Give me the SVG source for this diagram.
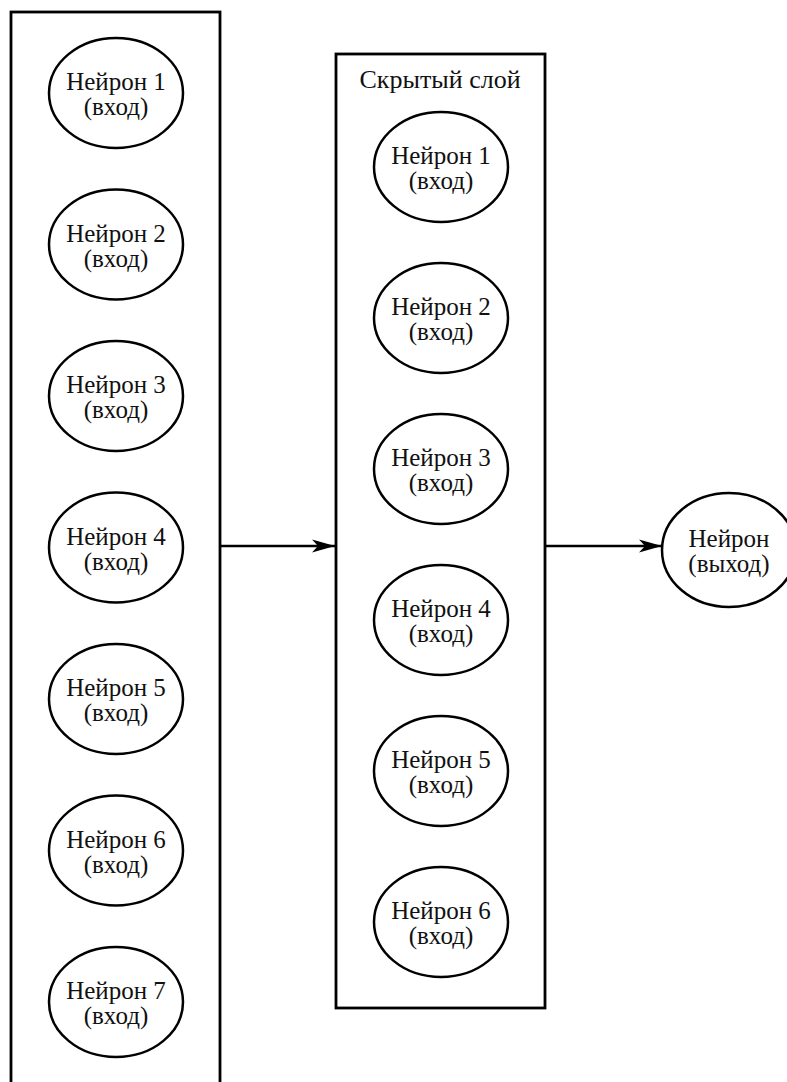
<svg xmlns="http://www.w3.org/2000/svg" width="787" height="1082" viewBox="0 0 787 1082">
<defs>
<style>
.layer{fill:#fff;stroke:#000;stroke-width:2.8}
.nd{fill:#fff;stroke:#000;stroke-width:2.5}
.t{font-family:"Liberation Serif","Times New Roman",serif;font-size:25px;fill:#111;text-anchor:middle}
.tt{font-size:26px}
.edge{stroke:#000;stroke-width:2.6;fill:none}
</style>
<marker id="arr" markerWidth="24" markerHeight="14" refX="23" refY="7" orient="auto" markerUnits="userSpaceOnUse">
<path d="M23,7 L0,0.5 L6,7 L0,13.5 Z" fill="#000"/>
</marker>
</defs>
<rect width="787" height="1082" fill="#fff"/>
<g id="input-layer">
<rect class="layer" x="11" y="12" width="209" height="1090"/>
</g>
<g id="hidden-layer">
<rect class="layer" x="336" y="54" width="209" height="954"/>
<text class="t tt" x="440" y="88">Скрытый слой</text>
</g>
<g id="in1"><ellipse class="nd" cx="116" cy="93" rx="67" ry="55"/><text class="t" x="116" y="90">Нейрон 1</text><text class="t" x="116" y="115">(вход)</text></g>
<g id="in2"><ellipse class="nd" cx="116" cy="244.5" rx="67" ry="55"/><text class="t" x="116" y="241.5">Нейрон 2</text><text class="t" x="116" y="266.5">(вход)</text></g>
<g id="in3"><ellipse class="nd" cx="116" cy="396" rx="67" ry="55"/><text class="t" x="116" y="393">Нейрон 3</text><text class="t" x="116" y="418">(вход)</text></g>
<g id="in4"><ellipse class="nd" cx="116" cy="547.5" rx="67" ry="55"/><text class="t" x="116" y="544.5">Нейрон 4</text><text class="t" x="116" y="569.5">(вход)</text></g>
<g id="in5"><ellipse class="nd" cx="116" cy="699" rx="67" ry="55"/><text class="t" x="116" y="696">Нейрон 5</text><text class="t" x="116" y="721">(вход)</text></g>
<g id="in6"><ellipse class="nd" cx="116" cy="850.5" rx="67" ry="55"/><text class="t" x="116" y="847.5">Нейрон 6</text><text class="t" x="116" y="872.5">(вход)</text></g>
<g id="in7"><ellipse class="nd" cx="116" cy="1002" rx="67" ry="55"/><text class="t" x="116" y="999">Нейрон 7</text><text class="t" x="116" y="1024">(вход)</text></g>
<g id="h1"><ellipse class="nd" cx="441" cy="167" rx="67" ry="55"/><text class="t" x="441" y="164">Нейрон 1</text><text class="t" x="441" y="189">(вход)</text></g>
<g id="h2"><ellipse class="nd" cx="441" cy="318" rx="67" ry="55"/><text class="t" x="441" y="315">Нейрон 2</text><text class="t" x="441" y="340">(вход)</text></g>
<g id="h3"><ellipse class="nd" cx="441" cy="469" rx="67" ry="55"/><text class="t" x="441" y="466">Нейрон 3</text><text class="t" x="441" y="491">(вход)</text></g>
<g id="h4"><ellipse class="nd" cx="441" cy="620" rx="67" ry="55"/><text class="t" x="441" y="617">Нейрон 4</text><text class="t" x="441" y="642">(вход)</text></g>
<g id="h5"><ellipse class="nd" cx="441" cy="771" rx="67" ry="55"/><text class="t" x="441" y="768">Нейрон 5</text><text class="t" x="441" y="793">(вход)</text></g>
<g id="h6"><ellipse class="nd" cx="441" cy="922" rx="67" ry="55"/><text class="t" x="441" y="919">Нейрон 6</text><text class="t" x="441" y="944">(вход)</text></g>
<g id="out"><ellipse class="nd" cx="729" cy="550" rx="67" ry="57"/><text class="t" x="729" y="547">Нейрон</text><text class="t" x="729" y="572">(выход)</text></g>
<g id="connectors">
<line class="edge" x1="220" y1="546" x2="335" y2="546" marker-end="url(#arr)"/>
<line class="edge" x1="545" y1="546" x2="662" y2="546" marker-end="url(#arr)"/>
</g>
</svg>
